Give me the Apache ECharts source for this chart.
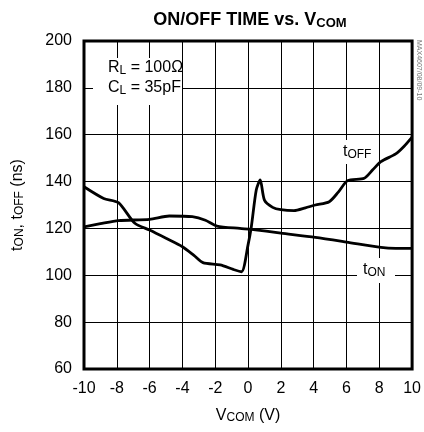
<!DOCTYPE html>
<html>
<head>
<meta charset="utf-8">
<script src="https://cdn.jsdelivr.net/npm/echarts@6/dist/echarts.min.js"></script>
<style>html,body{margin:0;padding:0;background:#fff}#c{width:424px;height:432px}</style>
</head>
<body>
<div id="c"></div>
<script>
// Data
var xTicks = [-10, -8, -6, -4, -2, 0, 2, 4, 6, 8, 10];
var yTicks = [60, 80, 100, 120, 140, 160, 180, 200];
var tOff = [[-10, 137.8], [-8.8, 132.8], [-7.9, 131], [-6.9, 122.2], [-6, 119.3], [-5, 115.8], [-4, 112.2], [-3.3, 108.5], [-2.75, 105.4], [-1.7, 104.4], [-0.9, 102.5], [-0.4, 101.5], [0.0, 113], [0.2, 120.7], [0.5, 136.4], [0.74, 140.7], [1.0, 132.1], [1.5, 129], [2.0, 128], [2.8, 127.6], [3.5, 128.8], [4.1, 130], [4.95, 131.4], [5.5, 135.5], [6.07, 140.4], [7.08, 141.4], [7.6, 145], [8.1, 148.5], [9.0, 151.8], [9.5, 155], [10, 159]];
var tOn = [[-10, 120.7], [-9, 122], [-7.9, 123.3], [-6, 123.9], [-4.8, 125.3], [-3.4, 125], [-2.6, 123.5], [-1.9, 121], [-0.5, 120], [0.2, 119.6], [2, 118], [4.1, 116.2], [6, 114.2], [8.1, 111.9], [9, 111.5], [10, 111.5]];

var FONT = '"Liberation Sans Narrow", "Liberation Sans", Arial, sans-serif';
var chart = echarts.init(document.getElementById('c'), null, {renderer: 'canvas'});
chart.setOption({
  animation: false,
  backgroundColor: '#fff',
  title: {
    text: '{a|ON/OFF TIME vs. V}{s|COM}',
    left: 245, top: 5, textAlign: 'center',
    textStyle: {
      rich: {
        a: {fontFamily: FONT, fontSize: 18, fontWeight: 'bold', color: '#000'},
        s: {fontFamily: FONT, fontSize: 13, fontWeight: 'bold', color: '#000', padding: [7, 0, 0, 0]}
      }
    }
  },
  grid: {left: 84, right: 10, top: 41, bottom: 63, show: true, borderColor: '#000', borderWidth: 3, containLabel: false},
  xAxis: {
    type: 'value', min: -10, max: 10, interval: 2,
    name: '{a|V}{s|COM}{a| (V)}', nameLocation: 'middle', nameGap: 38,
    nameTextStyle: {rich: {
      a: {fontFamily: FONT, fontSize: 16, color: '#000'},
      s: {fontFamily: FONT, fontSize: 12, color: '#000', padding: [5, 0, 0, 0]}
    }},
    axisLine: {show: false}, axisTick: {show: false},
    splitLine: {show: true, lineStyle: {color: '#000', width: 1}},
    axisLabel: {fontFamily: FONT, fontSize: 16, color: '#000', margin: 12,
      formatter: function (v) { return xTicks.indexOf(v) >= 0 ? String(v) : ''; }}
  },
  yAxis: {
    type: 'value', min: 60, max: 200, interval: 20,
    name: '{a|t}{s|ON}{a|, t}{s|OFF}{a| (ns)}', nameLocation: 'middle', nameGap: 58,
    nameTextStyle: {rich: {
      a: {fontFamily: FONT, fontSize: 16, color: '#000'},
      s: {fontFamily: FONT, fontSize: 12, color: '#000', padding: [5, 0, 0, 0]}
    }},
    axisLine: {show: false}, axisTick: {show: false},
    splitLine: {show: true, lineStyle: {color: '#000', width: 1}},
    axisLabel: {fontFamily: FONT, fontSize: 16, color: '#000', margin: 12,
      formatter: function (v) { return yTicks.indexOf(v) >= 0 ? String(v) : ''; }}
  },
  graphic: [
    {type: 'rect', shape: {x: 93, y: 58, width: 89, height: 47}, style: {fill: '#fff'}, z: 10},
    {type: 'text', x: 108, y: 68, z: 11, style: {text: '{a|R}{s|L}{a| = 100Ω}', verticalAlign: 'middle',
      rich: {a: {fontFamily: FONT, fontSize: 16, color: '#000'}, s: {fontFamily: FONT, fontSize: 12, color: '#000', padding: [5, 0, 0, 0]}}}},
    {type: 'text', x: 108, y: 88, z: 11, style: {text: '{a|C}{s|L}{a| = 35pF}', verticalAlign: 'middle',
      rich: {a: {fontFamily: FONT, fontSize: 16, color: '#000'}, s: {fontFamily: FONT, fontSize: 12, color: '#000', padding: [5, 0, 0, 0]}}}},
    {type: 'rect', shape: {x: 340, y: 140, width: 32, height: 24}, style: {fill: '#fff'}, z: 10},
    {type: 'text', x: 343, y: 152, z: 11, style: {text: '{a|t}{s|OFF}', verticalAlign: 'middle',
      rich: {a: {fontFamily: FONT, fontSize: 16, color: '#000'}, s: {fontFamily: FONT, fontSize: 12, color: '#000', padding: [5, 0, 0, 0]}}}},
    {type: 'rect', shape: {x: 357, y: 258, width: 38, height: 25}, style: {fill: '#fff'}, z: 10},
    {type: 'text', x: 363, y: 270, z: 11, style: {text: '{a|t}{s|ON}', verticalAlign: 'middle',
      rich: {a: {fontFamily: FONT, fontSize: 16, color: '#000'}, s: {fontFamily: FONT, fontSize: 12, color: '#000', padding: [5, 0, 0, 0]}}}},
    {type: 'text', x: 419, y: 40, rotation: -Math.PI / 2, z: 11, style: {text: 'MAX4607/08/09-10', fontFamily: FONT, fontSize: 7, fill: '#777', verticalAlign: 'middle', align: 'left'}}
  ],
  series: [
    {type: 'line', data: tOff, showSymbol: false, smooth: 0.25, lineStyle: {color: '#000', width: 2.8}, z: 20},
    {type: 'line', data: tOn, showSymbol: false, smooth: 0.25, lineStyle: {color: '#000', width: 2.8}, z: 20}
  ]
});
</script>
</body>
</html>
